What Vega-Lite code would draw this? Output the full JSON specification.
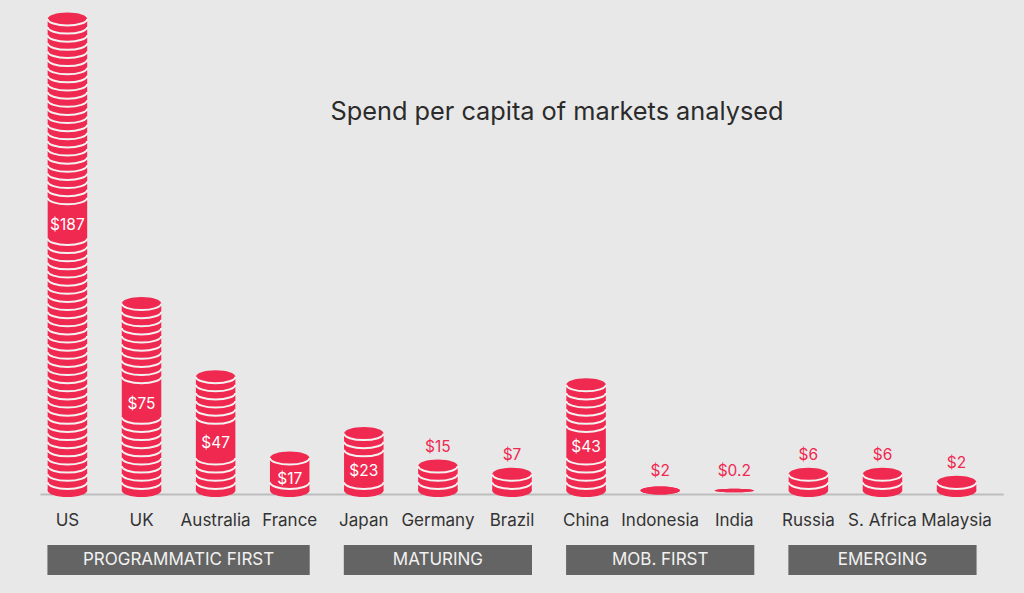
{
  "$schema": "https://vega.github.io/schema/vega-lite/v6.json",
  "width": 1024,
  "height": 593,
  "autosize": {"type": "none"},
  "padding": 0,
  "background": "#e8e8e8",
  "config": {"view": {"stroke": null}, "font": "Inter", "text": {"font": "Inter"}},
  "datasets": {
    "markets": [
      {"country": "US", "group": "PROGRAMMATIC FIRST", "value": 187, "label": "$187", "coins": 58, "arcs": [1,2,3,4,5,6,7,8,9,10,11,12,13,14,15,16,17,18,19,20,21,22,23,24,25,26,27,28,29,30,31,32,33,34,35,36,37,38,39,40,41,42,43,44,45,46,47,48,49,50,51,52,53,54,55,56,57,58]},
      {"country": "UK", "group": "PROGRAMMATIC FIRST", "value": 75, "label": "$75", "coins": 23, "arcs": [1,2,3,4,5,6,7,8,9,10,11,12,13,14,15,16,17,18,19,20,21,22,23]},
      {"country": "Australia", "group": "PROGRAMMATIC FIRST", "value": 47, "label": "$47", "coins": 14, "arcs": [1,2,3,4,5,6,7,8,9,10,11,12,13,14]},
      {"country": "France", "group": "PROGRAMMATIC FIRST", "value": 17, "label": "$17", "coins": 4, "arcs": [1,2,3,4]},
      {"country": "Japan", "group": "MATURING", "value": 23, "label": "$23", "coins": 7, "arcs": [1,2,3,4,5,6,7]},
      {"country": "Germany", "group": "MATURING", "value": 15, "label": "$15", "coins": 3, "arcs": [1,2,3]},
      {"country": "Brazil", "group": "MATURING", "value": 7, "label": "$7", "coins": 2, "arcs": [1,2]},
      {"country": "China", "group": "MOB. FIRST", "value": 43, "label": "$43", "coins": 13, "arcs": [1,2,3,4,5,6,7,8,9,10,11,12,13]},
      {"country": "Indonesia", "group": "MOB. FIRST", "value": 2, "label": "$2", "coins": 0, "arcs": []},
      {"country": "India", "group": "MOB. FIRST", "value": 0.2, "label": "$0.2", "coins": 0, "arcs": []},
      {"country": "Russia", "group": "EMERGING", "value": 6, "label": "$6", "coins": 2, "arcs": [1,2]},
      {"country": "S. Africa", "group": "EMERGING", "value": 6, "label": "$6", "coins": 2, "arcs": [1,2]},
      {"country": "Malaysia", "group": "EMERGING", "value": 2, "label": "$2", "coins": 1, "arcs": [1]}
    ],
    "groups": [
      {"group": "PROGRAMMATIC FIRST", "first": "US", "last": "France", "markets": 4},
      {"group": "MATURING", "first": "Japan", "last": "Brazil", "markets": 3},
      {"group": "MOB. FIRST", "first": "China", "last": "India", "markets": 3},
      {"group": "EMERGING", "first": "Russia", "last": "Malaysia", "markets": 3}
    ]
  },
  "data": {"name": "markets"},
  "layer": [
    {
      "data": {"values": [{"title": "Spend per capita of markets analysed"}]},
      "mark": {"type": "text", "fontSize": 25.3, "color": "#2b2b2b", "align": "center", "baseline": "middle", "xOffset": 45},
      "encoding": {
        "text": {"field": "title"},
        "x": {"datum": "Brazil", "type": "nominal", "scale": {"type": "point", "domain": ["US","UK","Australia","France","Japan","Germany","Brazil","China","Indonesia","India","Russia","S. Africa","Malaysia"], "padding": 0.91}, "axis": null},
        "y": {"datum": 46.5, "type": "quantitative", "scale": {"domain": [-12.608, 60.33], "nice": false, "zero": false}, "axis": null}
      }
    },
    {
      "data": {"values": [{}]},
      "mark": {"type": "rule", "color": "#bdbdbd", "strokeWidth": 2, "xOffset": -27, "x2Offset": 47},
      "encoding": {
        "x": {"datum": "US", "type": "nominal", "scale": {"type": "point", "domain": ["US","UK","Australia","France","Japan","Germany","Brazil","China","Indonesia","India","Russia","S. Africa","Malaysia"], "padding": 0.91}, "axis": null},
        "x2": {"datum": "Malaysia"},
        "y": {"datum": -0.5, "type": "quantitative", "scale": {"domain": [-12.608, 60.33], "nice": false, "zero": false}, "axis": null}
      }
    },
    {
      "mark": {"type": "bar", "color": "#ef2950", "width": 39.5},
      "encoding": {
        "x": {"field": "country", "type": "nominal", "scale": {"type": "point", "domain": ["US","UK","Australia","France","Japan","Germany","Brazil","China","Indonesia","India","Russia","S. Africa","Malaysia"], "padding": 0.91}, "axis": null},
        "y": {"field": "coins", "type": "quantitative", "scale": {"domain": [-12.608, 60.33], "nice": false, "zero": false}, "axis": null},
        "y2": {"datum": 0}
      }
    },
    {
      "mark": {"type": "point", "filled": true, "opacity": 1, "strokeWidth": 0, "size": 1560, "color": "#ef2950"},
      "encoding": {
        "x": {"field": "country", "type": "nominal", "scale": {"type": "point", "domain": ["US","UK","Australia","France","Japan","Germany","Brazil","China","Indonesia","India","Russia","S. Africa","Malaysia"], "padding": 0.91}, "axis": null},
        "y": {"datum": 0, "type": "quantitative", "scale": {"domain": [-12.608, 60.33], "nice": false, "zero": false}, "axis": null},
        "shape": {
          "condition": [
            {"test": "datum.value < 1", "value": "M-1,0C-1,-0.052,-0.5523,-0.094,0,-0.094C0.5523,-0.094,1,-0.052,1,0C1,0.052,0.5523,0.094,0,0.094C-0.5523,0.094,-1,0.052,-1,0Z"},
            {"test": "datum.coins === 0", "value": "M-1,0C-1,-0.112,-0.5523,-0.203,0,-0.203C0.5523,-0.203,1,-0.112,1,0C1,0.112,0.5523,0.203,0,0.203C-0.5523,0.203,-1,0.112,-1,0Z"}
          ],
          "value": "M-1,0C-1,-0.1823,-0.5523,-0.33,0,-0.33C0.5523,-0.33,1,-0.1823,1,0C1,0.1823,0.5523,0.33,0,0.33C-0.5523,0.33,-1,0.1823,-1,0Z"
        }
      }
    },
    {
      "mark": {"type": "point", "filled": true, "opacity": 1, "strokeWidth": 0, "size": 1560, "color": "#ef2950"},
      "encoding": {
        "x": {"field": "country", "type": "nominal", "scale": {"type": "point", "domain": ["US","UK","Australia","France","Japan","Germany","Brazil","China","Indonesia","India","Russia","S. Africa","Malaysia"], "padding": 0.91}, "axis": null},
        "y": {"field": "coins", "type": "quantitative", "scale": {"domain": [-12.608, 60.33], "nice": false, "zero": false}, "axis": null},
        "shape": {
          "condition": [
            {"test": "datum.value < 1", "value": "M-1,0C-1,-0.052,-0.5523,-0.094,0,-0.094C0.5523,-0.094,1,-0.052,1,0C1,0.052,0.5523,0.094,0,0.094C-0.5523,0.094,-1,0.052,-1,0Z"},
            {"test": "datum.coins === 0", "value": "M-1,0C-1,-0.112,-0.5523,-0.203,0,-0.203C0.5523,-0.203,1,-0.112,1,0C1,0.112,0.5523,0.203,0,0.203C-0.5523,0.203,-1,0.112,-1,0Z"}
          ],
          "value": "M-1,0C-1,-0.1823,-0.5523,-0.33,0,-0.33C0.5523,-0.33,1,-0.1823,1,0C1,0.1823,0.5523,0.33,0,0.33C-0.5523,0.33,-1,0.1823,-1,0Z"
        }
      }
    },
    {
      "transform": [
        {"flatten": ["arcs"]},
        {"calculate": "max(0.45*datum.coins + 0.0022*datum.coins*datum.coins - 0.9, 1.4)", "as": "L"},
        {"calculate": "datum.arcs - 0.8 - datum.L", "as": "d"},
        {"filter": "!(datum.coins >= 4 && datum.d > (datum.coins > 4 ? -1.9 : -1.15) && datum.d < 1.7)"}
      ],
      "mark": {"type": "point", "filled": false, "opacity": 1, "strokeWidth": 2, "size": 1560, "color": "#f4f1f1", "shape": "M-1,0C-1,0.1823,-0.5523,0.33,0,0.33C0.5523,0.33,1,0.1823,1,0"},
      "encoding": {
        "x": {"field": "country", "type": "nominal", "scale": {"type": "point", "domain": ["US","UK","Australia","France","Japan","Germany","Brazil","China","Indonesia","India","Russia","S. Africa","Malaysia"], "padding": 0.91}, "axis": null},
        "y": {"field": "arcs", "type": "quantitative", "scale": {"domain": [-12.608, 60.33], "nice": false, "zero": false}, "axis": null}
      }
    },
    {
      "transform": [
        {"filter": "datum.coins >= 4"},
        {"calculate": "max(0.45*datum.coins + 0.0022*datum.coins*datum.coins - 0.9, 1.4)", "as": "L"}
      ],
      "mark": {"type": "text", "fontSize": 15.5, "color": "#ffffff", "align": "center", "baseline": "middle"},
      "encoding": {
        "x": {"field": "country", "type": "nominal", "scale": {"type": "point", "domain": ["US","UK","Australia","France","Japan","Germany","Brazil","China","Indonesia","India","Russia","S. Africa","Malaysia"], "padding": 0.91}, "axis": null},
        "y": {"field": "L", "type": "quantitative", "scale": {"domain": [-12.608, 60.33], "nice": false, "zero": false}, "axis": null},
        "text": {"field": "label"}
      }
    },
    {
      "transform": [{"filter": "datum.coins < 4"}],
      "mark": {"type": "text", "fontSize": 15.5, "color": "#ef2950", "align": "center", "baseline": "middle", "dy": -19.5},
      "encoding": {
        "x": {"field": "country", "type": "nominal", "scale": {"type": "point", "domain": ["US","UK","Australia","France","Japan","Germany","Brazil","China","Indonesia","India","Russia","S. Africa","Malaysia"], "padding": 0.91}, "axis": null},
        "y": {"field": "coins", "type": "quantitative", "scale": {"domain": [-12.608, 60.33], "nice": false, "zero": false}, "axis": null},
        "text": {"field": "label"}
      }
    },
    {
      "mark": {"type": "text", "fontSize": 17, "color": "#333333", "align": "center", "baseline": "middle"},
      "encoding": {
        "x": {"field": "country", "type": "nominal", "scale": {"type": "point", "domain": ["US","UK","Australia","France","Japan","Germany","Brazil","China","Indonesia","India","Russia","S. Africa","Malaysia"], "padding": 0.91}, "axis": null},
        "y": {"datum": -3.7, "type": "quantitative", "scale": {"domain": [-12.608, 60.33], "nice": false, "zero": false}, "axis": null},
        "text": {"field": "country"}
      }
    },
    {
      "data": {"name": "groups"},
      "mark": {"type": "rect", "color": "#646464", "xOffset": -20, "x2Offset": 20},
      "encoding": {
        "x": {"field": "first", "type": "nominal", "scale": {"type": "point", "domain": ["US","UK","Australia","France","Japan","Germany","Brazil","China","Indonesia","India","Russia","S. Africa","Malaysia"], "padding": 0.91}, "axis": null},
        "x2": {"field": "last"},
        "y": {"datum": -6.7, "type": "quantitative", "scale": {"domain": [-12.608, 60.33], "nice": false, "zero": false}, "axis": null},
        "y2": {"datum": -10.39}
      }
    },
    {
      "data": {"name": "groups"},
      "mark": {"type": "text", "fontSize": 17, "color": "#f2f2f2", "align": "center", "baseline": "middle"},
      "encoding": {
        "x": {"field": "first", "type": "nominal", "scale": {"type": "point", "domain": ["US","UK","Australia","France","Japan","Germany","Brazil","China","Indonesia","India","Russia","S. Africa","Malaysia"], "padding": 0.91}, "axis": null},
        "xOffset": {"field": "markets", "type": "quantitative", "scale": {"domain": [1, 4], "range": [0, 111.15], "zero": false, "nice": false}},
        "y": {"datum": -8.55, "type": "quantitative", "scale": {"domain": [-12.608, 60.33], "nice": false, "zero": false}, "axis": null},
        "text": {"field": "group"}
      }
    }
  ]
}
